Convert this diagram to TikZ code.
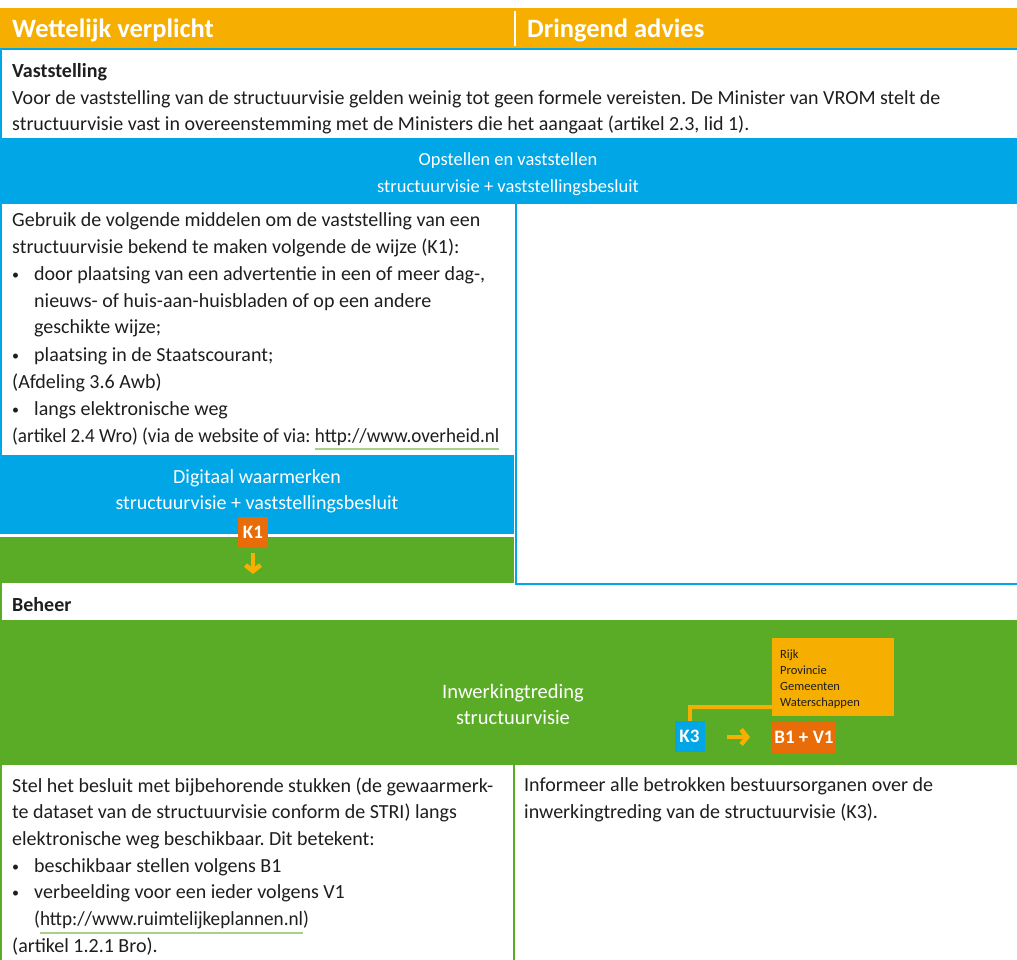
\documentclass[tikz,border=0pt]{standalone}
\usepackage{fontspec}
\usepackage{graphicx}
\setmainfont{Carlito}
\usetikzlibrary{arrows.meta}
\definecolor{hdr}{RGB}{246,174,0}
\definecolor{rblue}{RGB}{0,166,230}
\definecolor{rgreen}{RGB}{90,172,38}
\definecolor{korange}{RGB}{232,108,8}
\definecolor{ink}{RGB}{30,30,30}
\definecolor{ulgreen}{RGB}{168,207,140}
\definecolor{arrowy}{RGB}{248,176,0}
\frenchspacing
\newcommand\bodyfont{\fontsize{20}{27}\selectfont}
\newcommand\ulink[1]{\setbox0\hbox{#1}\rlap{\textcolor{ulgreen}{\rule[-8pt]{\wd0}{1.6pt}}}\box0}
\newcommand\blt{\makebox[22pt][l]{\raisebox{1pt}{\fontsize{14}{14}\selectfont\textbullet}}}
\newcommand\ind{\hspace*{22pt}}
\begin{document}
\begin{tikzpicture}[x=1pt,y=-1pt,
  txt/.style={anchor=base west, inner sep=0pt, font=\bodyfont, text=ink},
  ctxt/.style={anchor=base, inner sep=0pt, text=white},
  hdrtxt/.style={anchor=base west, inner sep=0pt, text=white, font=\bfseries\fontsize{26.5}{26.5}\selectfont},
  kbox/.style={minimum width=30pt, minimum height=31pt, inner sep=0pt, text=white, font=\bfseries\fontsize{19}{19}\selectfont},
  bluebar/.style={draw=rblue, line width=2pt},
  greenbar/.style={draw=rgreen, line width=2pt},
  conn/.style={draw=hdr, line width=4pt},
  yarrow/.style={draw=arrowy, line width=4.5pt, -{Straight Barb[length=6pt,width=15pt]}}]
\useasboundingbox (0,0) rectangle (1017,960);
\fill[white] (0,0) rectangle (1017,960);
% header
\fill[hdr] (0,8) rectangle (1017,48);
\draw[white, line width=2pt] (515,11) -- (515,46);
\node[hdrtxt] (h1) at (12,38) {Wettelijk verplicht};
\node[hdrtxt] (h2) at (527,38) {Dringend advies};
% Vaststelling section
\draw[bluebar] (0,49) -- (1017,49);
\draw[bluebar] (1,49) -- (1,139);
\node[txt] (vasthead) at (12,78) {\bfseries Vaststelling};
\node[txt] (vasttext) at (12,104.5) {\parbox[t]{1000pt}{\fontsize{20}{26}\selectfont Voor de vaststelling van de structuurvisie gelden weinig tot geen formele vereisten. De Minister van VROM stelt de\\structuurvisie vast in overeenstemming met de Ministers die het aangaat (artikel 2.3, lid 1).}};
\fill[rblue] (0,138) rectangle (1017,204);
\node[ctxt, font=\fontsize{18.5}{27}\selectfont] (opst) at (508,166) {\parbox[t]{600pt}{\centering Opstellen en vaststellen\\structuurvisie + vaststellingsbesluit}};
% left box
\draw[bluebar] (1,204) -- (1,455);
\node[txt] (lefttext) at (12,226) {\parbox[t]{600pt}{Gebruik de volgende middelen om de vaststelling van een\\
structuurvisie bekend te maken volgende de wijze (K1):\\
\blt door plaatsing van een advertentie in een of meer dag-,\\
\ind nieuws- of huis-aan-huisbladen of op een andere\\
\ind geschikte wijze;\\
\blt plaatsing in de Staatscourant;\\
(Afdeling 3.6 Awb)\\
\blt langs elektronische weg\\
\scalebox{0.955}[1]{(artikel 2.4 Wro) (via de website of via: \ulink{http://www.overheid.nl}}}};
% right box
\draw[bluebar] (516,204) -- (516,584) -- (1017,584);
% digitaal waarmerken
\fill[rblue] (0,455) rectangle (514,534);
\node[ctxt, font=\fontsize{20}{26.5}\selectfont] (digi) at (257,483) {\parbox[t]{500pt}{\centering Digitaal waarmerken\\structuurvisie + vaststellingsbesluit}};
\fill[rgreen] (0,537) rectangle (514,583);
\node[kbox, fill=korange] (k1) at (253,532.5) {K1};
\coordinate (a1s) at (253,553);
\coordinate (a1e) at (253,574);
\draw[yarrow] (a1s) -- (a1e);
% Beheer
\draw[greenbar] (1,583) -- (1,620);
\node[txt] (beheer) at (12,611) {\bfseries Beheer};
\fill[rgreen] (0,620) rectangle (1017,765);
\node[ctxt, font=\fontsize{20.5}{26.5}\selectfont] (inw) at (513,698) {\parbox[t]{500pt}{\centering Inwerkingtreding\\structuurvisie}};
\node[fill=hdr, minimum width=122pt, minimum height=78pt, anchor=north west, inner sep=0pt] (org) at (772,638) {};
\node[anchor=base west, inner sep=0pt, font=\fontsize{12.5}{16}\selectfont, text=ink] (orgtxt) at (780,658) {\parbox[t]{110pt}{Rijk\\Provincie\\Gemeenten\\Waterschappen}};
\node[kbox, fill=rblue] (k3) at (689.5,736.5) {K3};
\node[kbox, fill=korange, minimum width=64pt] (bv) at (804,737.5) {B1 + V1};
\coordinate (orgjoin) at (772,707);
\draw[conn] (k3.north) |- (orgjoin);
\coordinate (a2s) at (727,737);
\coordinate (a2e) at (750,737);
\draw[yarrow] (a2s) -- (a2e);
% bottom
\draw[greenbar] (1,765) -- (1,960);
\draw[greenbar] (514,765) -- (514,960);
\node[txt] (bottext) at (12,792) {\parbox[t]{600pt}{\fontsize{20}{26.7}\selectfont Stel het besluit met bijbehorende stukken (de gewaarmerk-\\
te dataset van de structuurvisie conform de STRI) langs\\
elektronische weg beschikbaar. Dit betekent:\\
\blt beschikbaar stellen volgens B1\\
\blt verbeelding voor een ieder volgens V1\\
\ind \scalebox{0.96}[1]{(\ulink{http://www.ruimtelijkeplannen.nl})}\\
(artikel 1.2.1 Bro).}};
\node[txt] (rtext) at (524,791) {\parbox[t]{480pt}{Informeer alle betrokken bestuursorganen over de\\inwerkingtreding van de structuurvisie (K3).}};
\end{tikzpicture}
\end{document}
